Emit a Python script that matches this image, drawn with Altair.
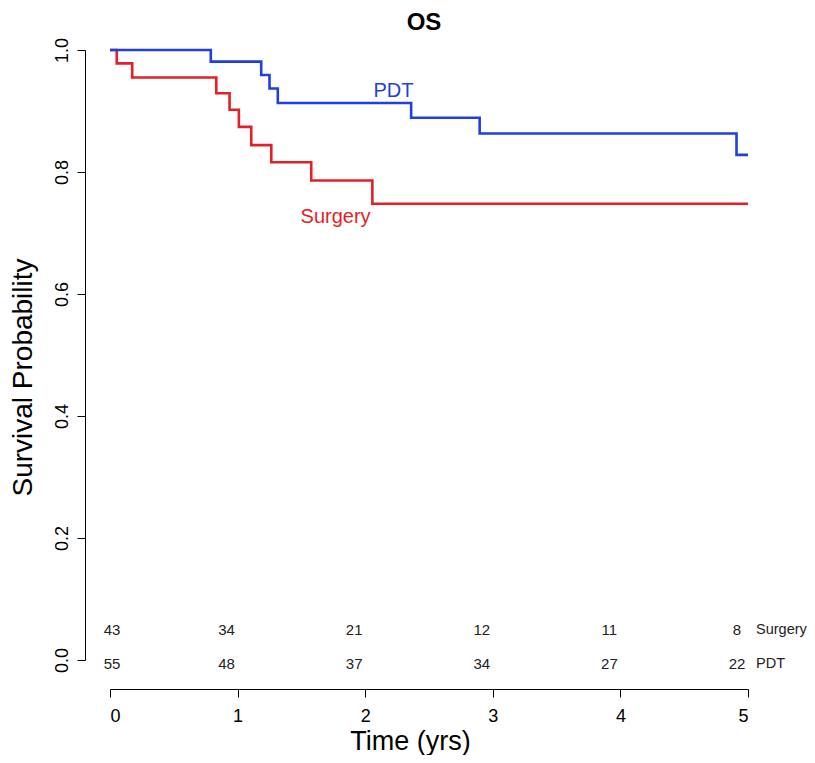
import altair as alt
import pandas as pd

# Kaplan-Meier step points (time in years, survival probability)
pdt_time = [0.0, 0.79, 1.185, 1.25, 1.315, 2.36, 2.897, 4.91, 5.0]
pdt_surv = [1.0, 0.981, 0.959, 0.937, 0.913, 0.889, 0.863, 0.828, 0.828]

surgery_time = [0.0, 0.053, 0.174, 0.833, 0.937, 1.01, 1.107, 1.264, 1.577, 2.056, 5.0]
surgery_surv = [1.0, 0.978, 0.955, 0.929, 0.902, 0.874, 0.844, 0.816, 0.786, 0.748, 0.748]

# Numbers at risk
risk_times = [0, 1, 2, 3, 4, 5]
risk_surgery = [43, 34, 21, 12, 11, 8]
risk_pdt = [55, 48, 37, 34, 27, 22]

x_ticks = [0, 1, 2, 3, 4, 5]
y_ticks = [0.0, 0.2, 0.4, 0.6, 0.8, 1.0]

FONT = "Liberation Sans"
BLUE = "#1f3fe0"
RED = "#e41f26"

curves = pd.DataFrame(
    {"time": surgery_time + pdt_time,
     "surv": surgery_surv + pdt_surv,
     "group": ["Surgery"] * len(surgery_time) + ["PDT"] * len(pdt_time),
     "order": [0] * len(surgery_time) + [1] * len(pdt_time)}
)

xscale = alt.Scale(domain=[0, 5], nice=False, zero=False)
yscale = alt.Scale(domain=[0, 1], nice=False)

xaxis = alt.Axis(values=x_ticks, format="d", grid=False, offset=29, tickSize=8,
                 tickColor="black", domainColor="black", labelColor="black",
                 labelFontSize=18, labelFont=FONT, labelPadding=10,
                 title="Time (yrs)", titleFont=FONT, titleFontSize=27,
                 titleFontWeight="normal", titleColor="black", titlePadding=3,
                 titleX=300)
yaxis = alt.Axis(values=y_ticks, format=".1f", grid=False, offset=25, tickSize=8,
                 tickColor="black", domainColor="black", labelColor="black",
                 labelFontSize=18, labelFont=FONT, labelAngle=270, labelPadding=6,
                 title="Survival Probability", titleFont=FONT, titleFontSize=28,
                 titleFontWeight="normal", titleColor="black", titlePadding=16,
                 titleY=327)

lines = alt.Chart(curves).mark_line(interpolate="step-after", strokeWidth=2.6).encode(
    x=alt.X("time:Q", scale=xscale, axis=xaxis),
    y=alt.Y("surv:Q", scale=yscale, axis=yaxis),
    color=alt.Color("group:N", scale=alt.Scale(domain=["Surgery", "PDT"], range=[RED, BLUE]), legend=None),
    order="order:Q",
    detail="group:N",
)

labels = pd.DataFrame({"time": [2.222, 1.768], "surv": [0.932, 0.726], "text": ["PDT", "Surgery"],
                       "group": ["PDT", "Surgery"]})
curve_labels = alt.Chart(labels).mark_text(font=FONT, fontSize=20, baseline="middle", align="center").encode(
    x=alt.X("time:Q", scale=xscale),
    y=alt.Y("surv:Q", scale=yscale),
    text="text:N",
    color=alt.Color("group:N", scale=alt.Scale(domain=["Surgery", "PDT"], range=[RED, BLUE]), legend=None),
)

# display positions for at-risk numbers (slightly left of each time point, first nudged right)
px_per_year = 638 / 5
risk_x = [t + (2 / px_per_year if t == 0 else -11 / px_per_year) for t in risk_times]
risk_df = pd.DataFrame({
    "x": risk_x + risk_x,
    "y": [0.049] * 6 + [-0.007] * 6,
    "text": [str(v) for v in risk_surgery] + [str(v) for v in risk_pdt],
})
risk_text = alt.Chart(risk_df).mark_text(font=FONT, fontSize=15, color="#222222",
                                         baseline="middle", align="center").encode(
    x=alt.X("x:Q", scale=xscale),
    y=alt.Y("y:Q", scale=yscale),
    text="text:N",
)

row_df = pd.DataFrame({"x": [5, 5], "y": [0.049, -0.007], "text": ["Surgery", "PDT"]})
row_text = alt.Chart(row_df).mark_text(font=FONT, fontSize=14.5, color="#222222",
                                       baseline="middle", align="left", dx=8).encode(
    x=alt.X("x:Q", scale=xscale),
    y=alt.Y("y:Q", scale=yscale),
    text="text:N",
)

chart = alt.layer(lines, curve_labels, risk_text, row_text).properties(
    width=638, height=610,
    title=alt.TitleParams("OS", font=FONT, fontSize=24, fontWeight="bold", anchor="middle",
                          color="black", offset=2, dx=-5),
    autosize=alt.AutoSizeParams(type="none"),
    padding={"left": 102, "top": 42, "right": 59, "bottom": 95},
    background="white",
).configure_view(strokeWidth=0, stroke="transparent")

chart.save("out.html", embed_options={"renderer": "svg", "actions": False})
